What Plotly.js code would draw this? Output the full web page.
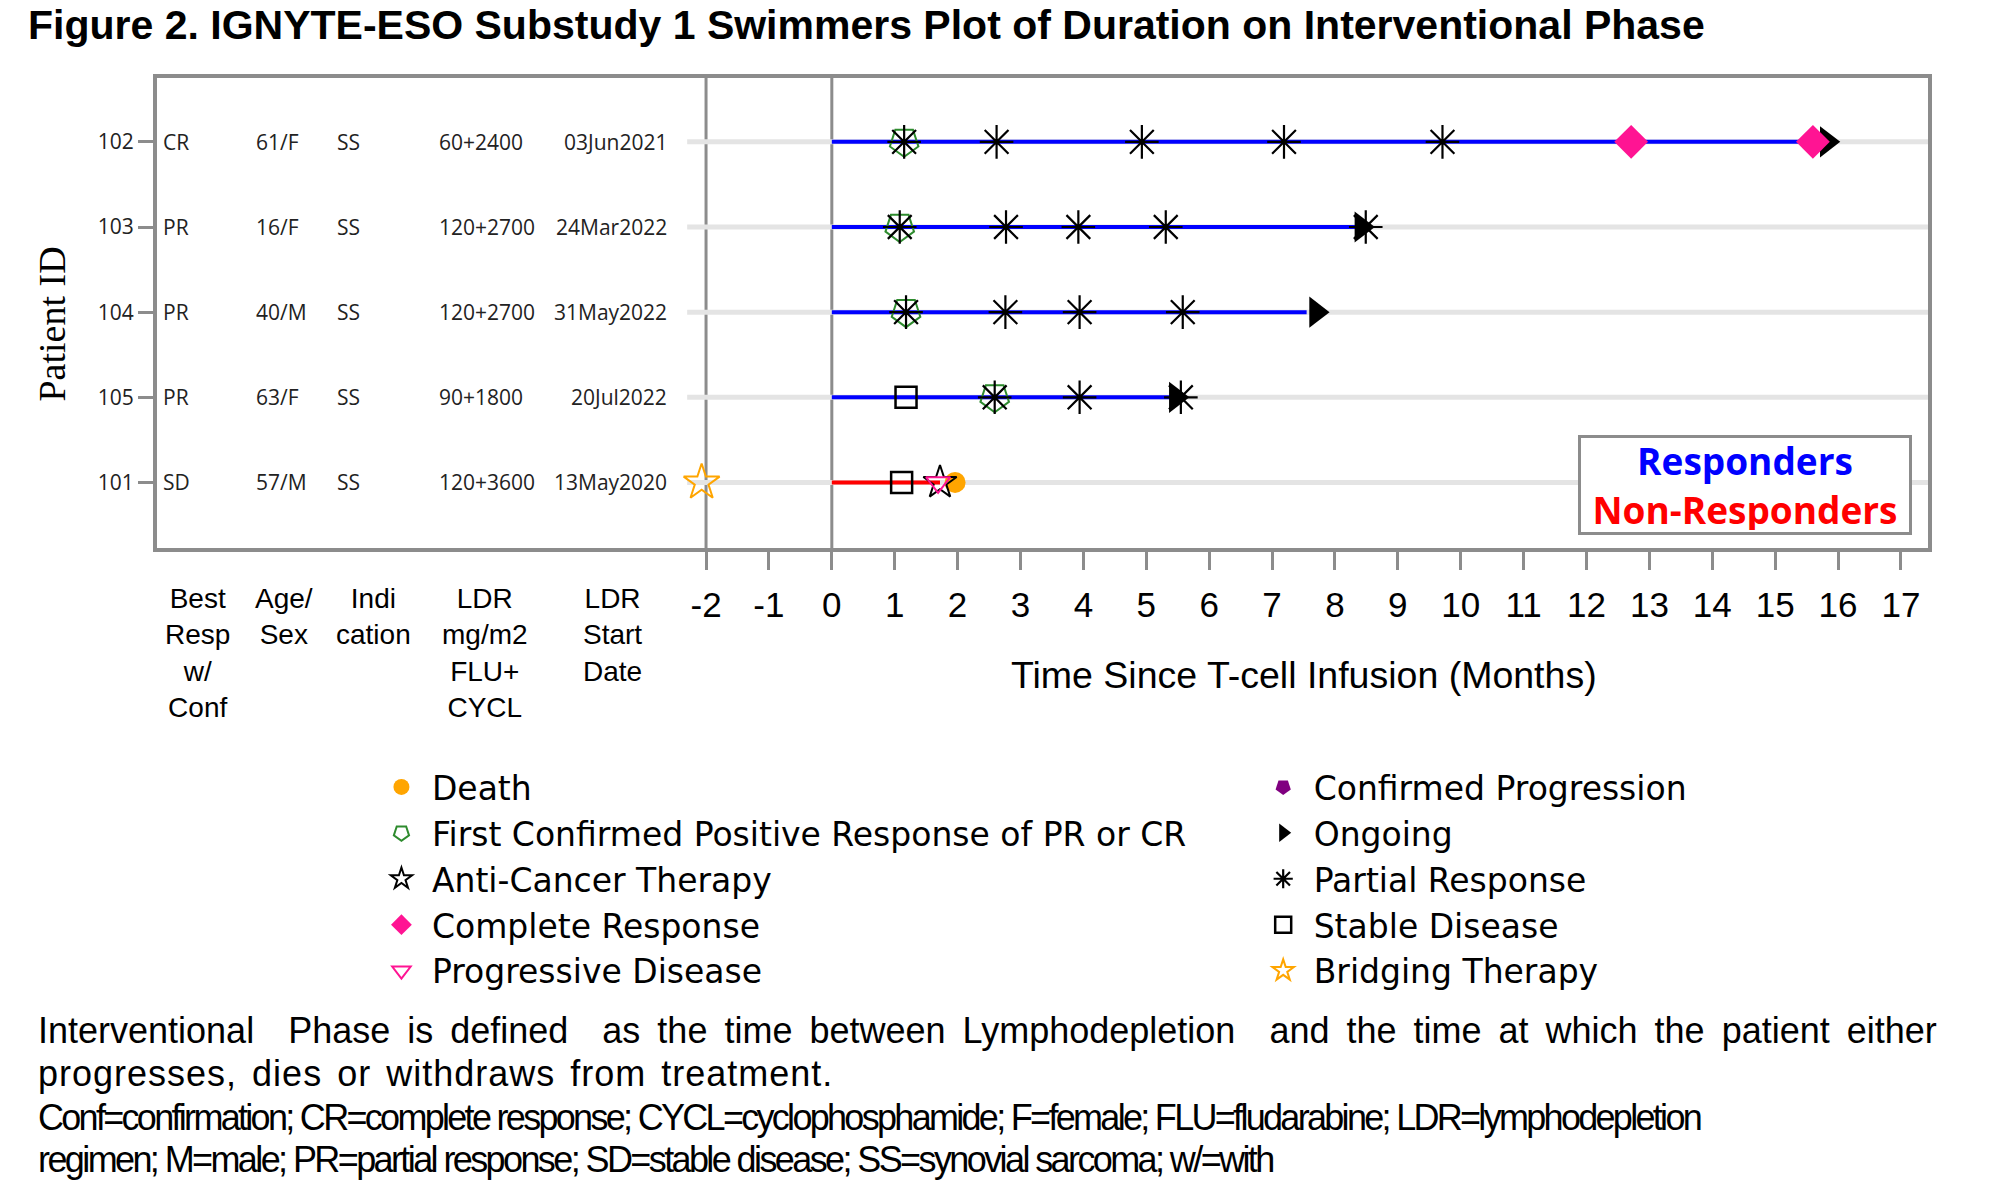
<!DOCTYPE html>
<html>
<head>
<meta charset="utf-8">
<script src="https://cdn.plot.ly/plotly-3.0.1.min.js"></script>
<style>html,body{margin:0;padding:0;background:#fff;}#chart{width:1994px;height:1185px;}</style>
</head>
<body>
<div id="chart"></div>
<script>
// ---------------- DATA ----------------
const patients      = ['102','103','104','105','101'];
const bestResp      = ['CR','PR','PR','PR','SD'];
const ageSex        = ['61/F','16/F','40/M','63/F','57/M'];
const indication    = ['SS','SS','SS','SS','SS'];
const ldrDose       = ['60+2400','120+2700','120+2700','90+1800','120+3600'];
const ldrStart      = ['03Jun2021','24Mar2022','31May2022','20Jul2022','13May2020'];
const isResponder   = [true,true,true,true,false];
const durationMonths= [15.6, 8.35, 7.55, 5.4, 1.72];

const deathPt = ['101'];                 const deathMo = [1.96];
const firstConfPt = ['102','103','104','105']; const firstConfMo = [1.15, 1.08, 1.18, 2.59];
const antiCancerPt = ['101'];            const antiCancerMo = [1.72];
const crPt = ['102','102'];              const crMo = [12.71, 15.6];
const pdPt = ['101'];                    const pdMo = [1.69];
const confProgPt = [null];               const confProgMo = [null];   // no events recorded
const ongoingPt = ['102','103','104','105']; const ongoingMo = [15.82, 8.42, 7.7, 5.47];
const prPt = ['102','102','102','102','102','103','103','103','103','103','104','104','104','104','105','105','105'];
const prMo = [1.15,2.62,4.93,7.19,9.71, 1.08,2.77,3.92,5.31,8.49, 1.18,2.76,3.94,5.58, 2.59,3.94,5.55];
const sdPt = ['105','101'];              const sdMo = [1.18, 1.11];
const bridgePt = ['101'];                const bridgeMo = [-2.07];

const monthTicks = [-2,-1,0,1,2,3,4,5,6,7,8,9,10,11,12,13,14,15,16,17];
const monthTickText = ['-2','-1','0','1','2','3','4','5','6','7','8','9','10','11','12','13','14','15','16','17'];
const rowOrder = ['101','105','104','103','102'];   // bottom to top
const columnHeaders = ['Best<br>Resp<br>w/<br>Conf','Age/<br>Sex','Indi<br>cation','LDR<br>mg/m2<br>FLU+<br>CYCL','LDR<br>Start<br>Date'];
const footnotes = [
  'Interventional\u00a0\u00a0Phase is defined\u00a0\u00a0as the time between Lymphodepletion\u00a0\u00a0and the time at which the patient either',
  'progresses, dies or withdraws from treatment.',
  'Conf=confirmation; CR=complete response; CYCL=cyclophosphamide; F=female; FLU=fludarabine; LDR=lymphodepletion',
  'regimen; M=male; PR=partial response; SD=stable disease; SS=synovial sarcoma; w/=with'
];

// ---------------- LAYOUT CONSTANTS ----------------
const FW = 1994, FH = 1185;
const ML = 156.5, MR = 66, MT = 78, MB = 637;
const PW = FW - ML - MR, PH = FH - MT - MB;
const px2x = p => (p - ML) / PW;
const px2y = p => (FH - MB - p) / PH;
const rowIdx = p => rowOrder.indexOf(p);
const GRAY = '#8c8c8c';
const SANS = 'Liberation Sans, Arial, sans-serif';
const HUM = 'Open Sans, Noto Sans, sans-serif';
const LEG = 'DejaVu Sans, Verdana, sans-serif';
const NB = '\u00a0';

const traces = [];
// swimmer lanes
patients.forEach((p, i) => {
  traces.push({
    type: 'scatter', mode: 'lines', x: [0, durationMonths[i]], y: [p, p],
    line: {color: isResponder[i] ? '#0000ff' : '#ff0000', width: 4},
    showlegend: false, hoverinfo: 'skip'
  });
});

function ev(name, xs, ys, marker, legend, rank) {
  return {type: 'scatter', mode: 'markers', name: NB + name, x: xs, y: ys, marker: marker,
          legend: legend, legendrank: rank, showlegend: true, cliponaxis: false};
}
traces.push(ev('Ongoing', ongoingMo, ongoingPt, {symbol: 'triangle-right', size: 27, color: '#000'}, 'legend2', 2));
traces.push(ev('Death', deathMo, deathPt, {symbol: 'circle', size: 21, color: '#ffa500'}, 'legend', 1));
traces.push(ev('First Confirmed Positive Response of PR or CR', firstConfMo, firstConfPt,
  {symbol: 'pentagon-open', angle: 180, size: 30, color: '#2e8b2e', line: {width: 2}}, 'legend', 2));
traces.push(ev('Stable Disease', sdMo, sdPt, {symbol: 'square-open', size: 21, color: '#000', line: {width: 2.5}}, 'legend2', 4));
traces.push(ev('Partial Response', prMo, prPt, {symbol: 'asterisk-open', size: 28, color: '#000', line: {width: 2.2}}, 'legend2', 3));
traces.push(ev('Anti-Cancer Therapy', antiCancerMo, antiCancerPt, {symbol: 'star-open', size: 25, color: '#000', line: {width: 2}}, 'legend', 3));
traces.push(ev('Progressive Disease', pdMo, pdPt, {symbol: 'triangle-down-open', size: 21, color: '#ff1493', line: {width: 2}}, 'legend', 5));
traces.push(ev('Complete Response', crMo, crPt, {symbol: 'diamond', size: 26, color: '#ff1493'}, 'legend', 4));
traces.push(ev('Bridging Therapy', bridgeMo, bridgePt, {symbol: 'star-open', size: 27, color: '#ffa500', line: {width: 2}}, 'legend2', 5));
traces.push(ev('Confirmed Progression', confProgMo, confProgPt, {symbol: 'pentagon', angle: 180, size: 24, color: '#800080'}, 'legend2', 1));

// shapes: row guide lines, vertical reference lines
const shapes = [];
patients.forEach(p => {
  shapes.push({type: 'line', xref: 'x', yref: 'y', x0: -2.3, x1: 17.43, y0: rowIdx(p), y1: rowIdx(p),
               line: {color: '#e4e4e4', width: 5}, layer: 'below'});
});
[-2, 0].forEach(v => {
  shapes.push({type: 'line', xref: 'x', yref: 'paper', x0: v, x1: v, y0: 0, y1: 1,
               line: {color: GRAY, width: 3}, layer: 'below'});
});

// annotations
const annotations = [];
const colLeft = [-10.67, -9.18, -7.9, -6.28];
const tableCols = [bestResp, ageSex, indication, ldrDose];
patients.forEach((p, i) => {
  tableCols.forEach((col, c) => {
    annotations.push({xref: 'x', yref: 'y', x: colLeft[c], y: rowIdx(p), text: col[i], showarrow: false,
      xanchor: 'left', yanchor: 'middle', font: {family: HUM, size: 21, color: '#222'}});
  });
  annotations.push({xref: 'x', yref: 'y', x: -2.59, y: rowIdx(p), text: ldrStart[i], showarrow: false,
    xanchor: 'right', yanchor: 'middle', font: {family: HUM, size: 21, color: '#222'}});
});
const headerX = [-10.09, -8.71, -7.28, -5.51, -3.49];
columnHeaders.forEach((h, c) => {
  annotations.push({xref: 'x', yref: 'paper', x: headerX[c], y: px2y(581), text: h, showarrow: false,
    xanchor: 'center', yanchor: 'top', align: 'center', font: {family: SANS, size: 28, color: '#000'}});
});
annotations.push({xref: 'x', yref: 'paper', x: 7.5, y: px2y(675), text: 'Time Since T-cell Infusion (Months)',
  showarrow: false, xanchor: 'center', yanchor: 'middle', font: {family: SANS, size: 37.5, color: '#000'}});
annotations.push({xref: 'paper', yref: 'paper', x: px2x(51), y: px2y(324), text: 'Patient ID', textangle: -90,
  showarrow: false, xanchor: 'center', yanchor: 'middle',
  font: {family: 'Liberation Serif, Times New Roman, serif', size: 38, color: '#000'}});
annotations.push({xref: 'paper', yref: 'paper', x: px2x(1745), y: px2y(485),
  text: '<span style="color:#0000ff">Responders</span><br><span style="color:#ff0000">Non-Responders</span>',
  showarrow: false, xanchor: 'center', yanchor: 'middle', align: 'center',
  font: {family: HUM, size: 37, weight: 700}, bordercolor: GRAY, borderwidth: 3, borderpad: 2,
  width: 324, height: 90, bgcolor: '#fff'});
const footY = [1030, 1073, 1117, 1159];
const footStyle = ['word-spacing:7px', 'letter-spacing:1px;word-spacing:4px', 'letter-spacing:-2.7px', 'letter-spacing:-2.6px'];
footnotes.forEach((t, k) => {
  annotations.push({xref: 'paper', yref: 'paper', x: px2x(35), y: px2y(footY[k]),
    text: '<span style="' + footStyle[k] + '">' + t + '</span>', showarrow: false,
    xanchor: 'left', yanchor: 'middle', font: {family: SANS, size: 36, color: '#000'}});
});

const legendFont = {family: LEG, size: 33, color: '#000'};
const layout = {
  width: FW, height: FH,
  margin: {l: ML, r: MR, t: MT, b: MB, autoexpand: false},
  paper_bgcolor: '#fff', plot_bgcolor: '#fff',
  title: {text: 'Figure 2. IGNYTE-ESO Substudy 1 Swimmers Plot of Duration on Interventional Phase',
    x: 28 / FW, xanchor: 'left', xref: 'container', y: 1 - 25 / FH, yanchor: 'middle', yref: 'container',
    font: {family: SANS, size: 41, weight: 700, color: '#000'}},
  xaxis: {range: [-10.73, 17.43], tickmode: 'array', tickvals: monthTicks, ticktext: monthTickText,
    showline: true, mirror: true, linecolor: GRAY, linewidth: 4, ticks: 'outside', ticklen: 18, tickwidth: 3,
    tickcolor: GRAY, showgrid: false, zeroline: false, ticklabelstandoff: 5,
    tickfont: {family: SANS, size: 35, color: '#000'}},
  yaxis: {type: 'category', categoryorder: 'array', categoryarray: rowOrder,
    range: [-0.77, 4.75], showline: true, mirror: true, linecolor: GRAY, linewidth: 4,
    ticks: 'outside', ticklen: 15, tickwidth: 3, tickcolor: GRAY, showgrid: false, zeroline: false,
    tickfont: {family: HUM, size: 21, color: '#222'}},
  legend: {x: px2x(381), y: px2y(759), xanchor: 'left', yanchor: 'top', orientation: 'v',
    bgcolor: 'rgba(0,0,0,0)', font: legendFont, traceorder: 'normal'},
  legend2: {x: px2x(1263), y: px2y(759), xanchor: 'left', yanchor: 'top', orientation: 'v',
    bgcolor: 'rgba(0,0,0,0)', font: legendFont, traceorder: 'normal'},
  shapes: shapes,
  annotations: annotations,
  showlegend: true,
  hovermode: false
};

Plotly.newPlot('chart', traces, layout, {displayModeBar: false, staticPlot: true});
</script>
</body>
</html>
